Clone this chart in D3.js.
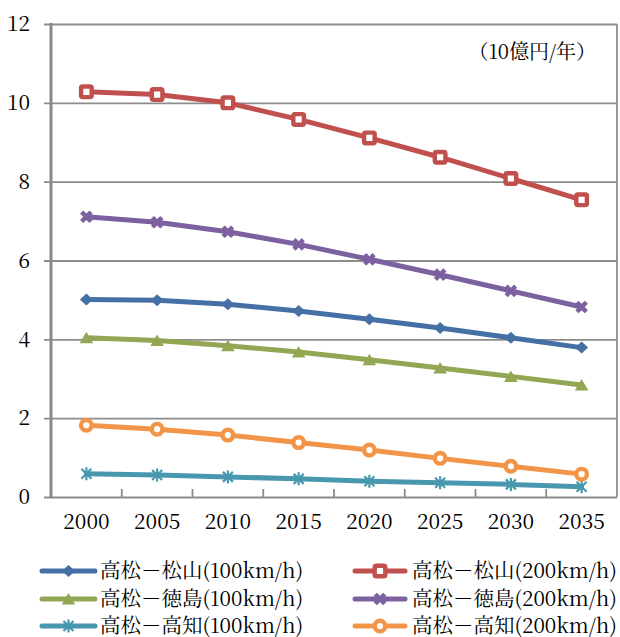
<!DOCTYPE html>
<html>
<head>
<meta charset="utf-8">
<script src="https://cdn.jsdelivr.net/npm/d3@7"></script>
<style>
  html, body { margin: 0; padding: 0; background: #fff; }
  svg { display: block; }
</style>
</head>
<body>
<svg id="chart" width="620" height="637"></svg>
<script>
// Annual benefit by route and design speed (units: 10億円/年)
const years = ["2000", "2005", "2010", "2015", "2020", "2025", "2030", "2035"];
const yTicks = [0, 2, 4, 6, 8, 10, 12];
const unitLabel = "（10億円/年）";

const seriesNames = [
  "高松－松山(100km/h)",
  "高松－松山(200km/h)",
  "高松－徳島(100km/h)",
  "高松－徳島(200km/h)",
  "高松－高知(100km/h)",
  "高松－高知(200km/h)"
];

const matsuyama100 = [5.01, 4.99, 4.89, 4.72, 4.51, 4.29, 4.04, 3.79];
const matsuyama200 = [10.28, 10.21, 10.00, 9.58, 9.11, 8.62, 8.08, 7.54];
const tokushima100 = [4.04, 3.97, 3.84, 3.68, 3.48, 3.27, 3.06, 2.84];
const tokushima200 = [7.11, 6.97, 6.73, 6.41, 6.03, 5.64, 5.23, 4.82];
const kochi100 = [0.59, 0.56, 0.51, 0.46, 0.40, 0.36, 0.32, 0.26];
const kochi200 = [1.82, 1.72, 1.57, 1.38, 1.19, 0.98, 0.78, 0.58];

const seriesValues = [matsuyama100, matsuyama200, tokushima100, tokushima200, kochi100, kochi200];
const colors = ["#4470A6", "#C0504D", "#92A653", "#7D60A0", "#4798AE", "#F39548"];
const markers = ["diamond", "square", "triangle", "x", "star", "circle"];

const FONT = '"Noto Serif CJK JP", "Liberation Serif"';

const svg = d3.select("#chart");
const plot = { left: 51, right: 617, top: 24, bottom: 497 };

const x = d3.scaleBand().domain(years).range([plot.left, plot.right]).paddingInner(0).paddingOuter(0);
const cx = d => x(d) + x.bandwidth() / 2;
const y = d3.scaleLinear().domain([0, 12]).range([plot.bottom, plot.top]);

const gridColor = "#8c8c8c";

// horizontal gridlines with short ticks to the left of the axis
const yGrid = svg.append("g")
  .attr("transform", `translate(${plot.right},0)`)
  .call(d3.axisLeft(y).tickValues(yTicks).tickSize(plot.right - plot.left + 7).tickFormat(""));
yGrid.select(".domain").remove();
yGrid.selectAll(".tick line").attr("stroke", gridColor).attr("stroke-width", 1.8);

// y tick labels
const yLab = svg.append("g")
  .attr("transform", `translate(${plot.left},0)`)
  .call(d3.axisLeft(y).tickValues(yTicks).tickSize(0).tickPadding(21).tickFormat(d3.format("d")));
yLab.select(".domain").remove();
yLab.selectAll("text").style("font-family", FONT).style("font-size", "21px").attr("fill", "#000");

// plot border: right edge
svg.append("line")
  .attr("x1", plot.right).attr("x2", plot.right).attr("y1", plot.top).attr("y2", plot.bottom)
  .attr("stroke", gridColor).attr("stroke-width", 1.8);

// x axis: category labels and boundary ticks
const xAxis = svg.append("g")
  .attr("transform", `translate(0,${plot.bottom})`)
  .call(d3.axisBottom(x).tickSize(0).tickPadding(17));
xAxis.select(".domain").remove();
xAxis.selectAll("text").style("font-family", FONT).style("font-size", "21px").attr("fill", "#000");

svg.append("g").selectAll("line")
  .data(years.slice(1))
  .join("line")
  .attr("x1", d => x(d)).attr("x2", d => x(d))
  .attr("y1", plot.bottom).attr("y2", plot.bottom - 8)
  .attr("stroke", gridColor).attr("stroke-width", 1.8);

// left axis line
svg.append("line")
  .attr("x1", plot.left).attr("x2", plot.left).attr("y1", plot.top - 1).attr("y2", plot.bottom + 1)
  .attr("stroke", "#878787").attr("stroke-width", 3);

// marker drawing
function drawMarker(g, type, color) {
  switch (type) {
    case "diamond":
      g.append("path").attr("d", "M0,-6L6.5,0L0,6L-6.5,0Z").attr("fill", color);
      break;
    case "square":
      g.append("rect").attr("x", -5.3).attr("y", -5.3).attr("width", 10.6).attr("height", 10.6)
        .attr("rx", 1.5).attr("fill", "#fff").attr("stroke", color).attr("stroke-width", 4.4);
      break;
    case "triangle":
      g.append("path").attr("d", "M0,-6L6.8,5.5L-6.8,5.5Z").attr("fill", color);
      break;
    case "x":
      g.append("path").attr("d", d3.symbol(d3.symbolCross, 100)()).attr("transform", "rotate(45)").attr("fill", color);
      break;
    case "star":
      g.append("path").attr("d", "M-5,-5L5,5M-5,5L5,-5M0,-6.5L0,6.5")
        .attr("stroke", color).attr("stroke-width", 2.2).attr("fill", "none");
      break;
    case "circle":
      g.append("circle").attr("r", 5.3).attr("fill", "#fff").attr("stroke", color).attr("stroke-width", 4.4);
      break;
  }
}

const line = d3.line().x((d, i) => cx(years[i])).y(d => y(d));

// series lines and markers
seriesValues.forEach((vals, s) => {
  const g = svg.append("g");
  g.append("path").datum(vals)
    .attr("d", line)
    .attr("fill", "none").attr("stroke", colors[s]).attr("stroke-width", 5)
    .attr("stroke-linejoin", "round").attr("stroke-linecap", "round");
  vals.forEach((v, i) => {
    const m = g.append("g").attr("transform", `translate(${cx(years[i])},${y(v)})`);
    drawMarker(m, markers[s], colors[s]);
  });
});

// unit label
svg.append("text")
  .attr("x", 596).attr("y", 59).attr("text-anchor", "end").attr("fill", "#000")
  .style("font-family", FONT).style("font-size", "20px").text(unitLabel);

// legend: two columns, three rows
const legendRows = [571, 599, 626];
const legendCols = [{ x1: 42, x2: 95, text: 100 }, { x1: 355, x2: 405, text: 412 }];
seriesNames.forEach((name, s) => {
  const col = legendCols[s % 2];
  const row = legendRows[Math.floor(s / 2)];
  const g = svg.append("g");
  g.append("line").attr("x1", col.x1).attr("x2", col.x2).attr("y1", row).attr("y2", row)
    .attr("stroke", colors[s]).attr("stroke-width", 5).attr("stroke-linecap", "round");
  const m = g.append("g").attr("transform", `translate(${(col.x1 + col.x2) / 2},${row})`);
  drawMarker(m, markers[s], colors[s]);
  g.append("text").attr("x", col.text).attr("y", row + 7).attr("fill", "#000")
    .style("font-family", FONT).style("font-size", "20.5px").text(name);
});
</script>
</body>
</html>
